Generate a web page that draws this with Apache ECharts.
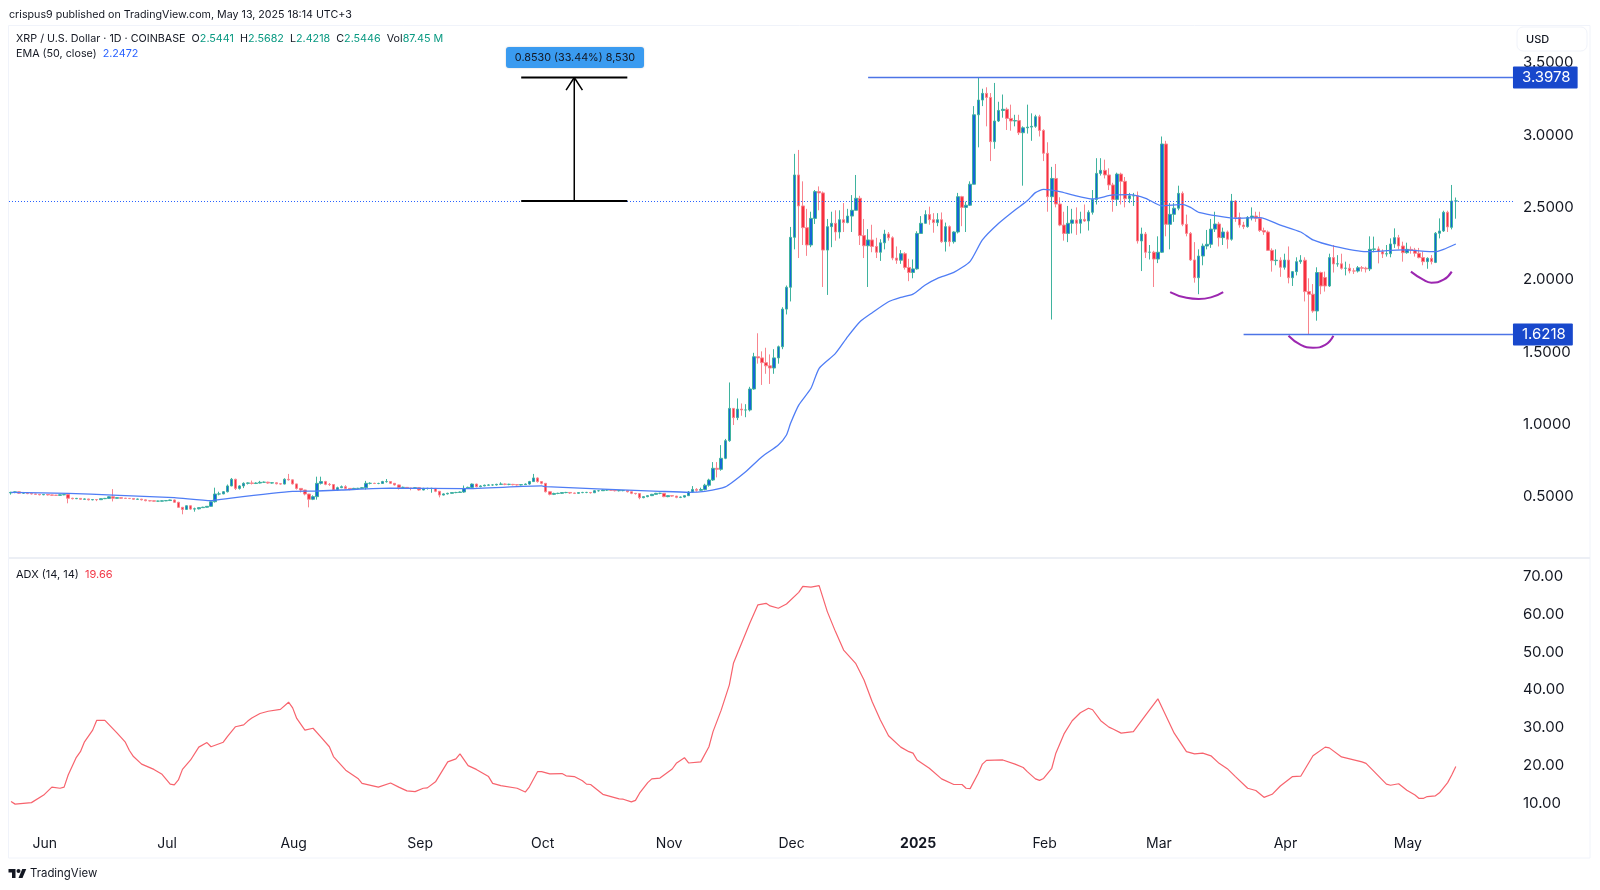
<!DOCTYPE html>
<html><head><meta charset="utf-8">
<style>html,body{margin:0;padding:0;background:#fff}#c{width:1600px;height:890px}</style>
<script src="https://cdn.jsdelivr.net/npm/echarts@6/dist/echarts.min.js"></script>
</head><body><div id="c"></div>
<script>
const startDate = Date.UTC(2024, 4, 24);
const dayCount = 369;
const tickDays = [8,38,69,100,130,161,191,222,253,281,312,342];
const tickLabels = ['Jun','Jul','Aug','Sep','Oct','Nov','Dec','2025','Feb','Mar','Apr','May'];
const priceTicks = [0.5,1,1.5,2,2.5,3,3.5];
const adxTicks = [10,20,30,40,50,60,70];

const opens = [
.527,.530,.534,.525,.525,.522,.520,.517,.514,.516,
.513,.511,.510,.514,.515,.490,.487,.489,.483,.485,
.479,.481,.480,.487,.489,.500,.490,.494,.490,.489,
.488,.483,.484,.479,.473,.472,.470,.470,.472,.474,
.478,.462,.427,.413,.438,.415,.417,.425,.428,.434,
.466,.519,.520,.535,.575,.621,.558,.575,.593,.596,
.592,.595,.600,.601,.595,.597,.590,.588,.621,.617,
.589,.558,.547,.519,.483,.501,.593,.605,.586,.585,
.547,.563,.570,.558,.552,.558,.558,.563,.593,.593,
.592,.592,.605,.605,.593,.582,.565,.565,.560,.558,
.563,.547,.558,.558,.558,.538,.512,.520,.524,.529,
.530,.533,.558,.565,.588,.570,.575,.580,.582,.582,
.586,.588,.586,.586,.584,.582,.584,.588,.605,.630,
.605,.593,.535,.517,.523,.524,.529,.530,.526,.524,
.529,.530,.530,.528,.542,.542,.547,.547,.545,.542,
.543,.543,.535,.524,.522,.494,.501,.508,.517,.524,
.524,.501,.508,.505,.496,.498,
.508,.533,.551,.545,.55,.58,.616,.697,.69,.766,
.888,1.111,1.047,1.106,1.10,1.10,1.245,1.468,1.46,1.427,
1.405,1.39,1.46,1.537,1.797,1.948,2.293,2.724,2.51,2.36,
2.24,2.424,2.609,2.60,2.205,2.367,2.39,2.33,2.415,2.395,
2.44,2.48,2.563,2.305,2.235,2.275,2.23,2.19,2.255,2.316,
2.29,2.15,2.135,2.18,2.085,2.05,2.075,2.32,2.39,2.45,
2.415,2.395,2.415,2.263,2.367,2.263,2.33,2.574,2.50,2.515,
2.66,3.14,3.242,3.288,3.26,2.954,3.097,3.17,3.178,3.115,
3.097,3.10,3.016,3.05,3.055,3.06,3.127,3.032,2.874,2.574,
2.70,2.523,2.378,2.32,2.39,2.413,2.39,2.417,2.406,2.466,
2.555,2.735,2.756,2.724,2.655,2.555,2.73,2.68,2.56,2.58,
2.58,2.268,2.316,2.19,2.19,2.143,2.19,2.938,2.383,2.452,
2.494,2.597,2.383,2.32,2.137,2.014,2.164,2.233,2.245,2.35,
2.385,2.291,2.33,2.28,2.544,2.43,2.378,2.367,2.431,2.44,
2.425,2.34,2.33,2.203,2.132,2.135,2.086,2.136,2.014,2.056,
2.125,2.135,1.918,1.90,1.784,2.05,2.016,1.957,2.153,2.109,
2.11,2.079,2.08,2.061,2.06,2.083,2.08,2.075,2.21,2.213,
2.194,2.178,2.18,2.247,2.291,2.233,2.187,2.21,2.205,2.183,
2.153,2.125,2.148,2.12,2.321,2.337,2.466,2.362,2.5441];

const closes = [
.530,.534,.525,.525,.522,.520,.517,.514,.516,.513,
.511,.510,.514,.515,.490,.487,.489,.483,.485,.479,
.481,.480,.487,.489,.500,.490,.494,.490,.489,.488,
.483,.484,.479,.473,.472,.470,.470,.472,.474,.478,
.462,.427,.413,.438,.415,.417,.425,.428,.434,.466,
.519,.520,.535,.575,.621,.558,.575,.593,.596,.592,
.595,.600,.601,.595,.597,.590,.588,.621,.617,.589,
.558,.547,.519,.483,.501,.593,.605,.586,.585,.547,
.563,.570,.558,.552,.558,.558,.563,.593,.593,.592,
.592,.605,.605,.593,.582,.565,.565,.560,.558,.563,
.547,.558,.558,.558,.538,.512,.520,.524,.529,.530,
.533,.558,.565,.588,.570,.575,.580,.582,.582,.586,
.588,.586,.586,.584,.582,.584,.588,.605,.630,.605,
.593,.535,.517,.523,.524,.529,.530,.526,.524,.529,
.530,.530,.528,.542,.542,.547,.547,.545,.542,.543,
.543,.535,.524,.522,.494,.501,.508,.517,.524,.524,
.501,.508,.505,.496,.498,.508,
.533,.551,.545,.55,.58,.616,.697,.69,.766,.888,
1.111,1.047,1.106,1.10,1.10,1.245,1.468,1.46,1.427,1.405,
1.39,1.46,1.537,1.797,1.948,2.293,2.724,2.51,2.36,2.24,
2.424,2.609,2.60,2.205,2.367,2.39,2.33,2.415,2.395,2.44,
2.48,2.563,2.305,2.235,2.275,2.23,2.19,2.255,2.316,2.29,
2.15,2.135,2.18,2.085,2.05,2.075,2.32,2.39,2.45,2.415,
2.395,2.415,2.263,2.367,2.263,2.33,2.574,2.50,2.515,2.66,
3.14,3.242,3.288,3.26,2.954,3.097,3.17,3.178,3.115,3.097,
3.10,3.016,3.05,3.055,3.06,3.127,3.032,2.874,2.574,2.70,
2.523,2.378,2.32,2.39,2.413,2.39,2.417,2.406,2.466,2.555,
2.735,2.756,2.724,2.655,2.555,2.73,2.68,2.56,2.58,2.58,
2.268,2.316,2.19,2.19,2.143,2.19,2.938,2.383,2.452,2.494,
2.597,2.383,2.32,2.137,2.014,2.164,2.233,2.245,2.35,2.385,
2.291,2.33,2.28,2.544,2.43,2.378,2.367,2.431,2.44,2.425,
2.34,2.33,2.203,2.132,2.135,2.086,2.136,2.014,2.056,2.125,
2.135,1.918,1.90,1.784,2.05,1.957,1.957,2.153,2.109,2.11,
2.079,2.08,2.061,2.06,2.083,2.08,2.075,2.21,2.213,2.194,
2.178,2.18,2.247,2.291,2.233,2.187,2.21,2.205,2.183,2.153,
2.125,2.148,2.125,2.321,2.337,2.466,2.365,2.544,2.5446];

const highs = [
.535,.537,.535,.528,.526,.523,.521,.518,.519,.517,
.514,.513,.517,.518,.517,.493,.492,.490,.488,.486,
.484,.483,.489,.492,.503,.553,.497,.496,.492,.491,
.489,.487,.485,.481,.475,.474,.473,.475,.477,.480,
.480,.465,.430,.440,.440,.425,.428,.431,.436,.468,
.563,.535,.540,.585,.630,.625,.580,.600,.600,.612,
.600,.610,.606,.604,.602,.600,.594,.628,.658,.620,
.590,.560,.548,.520,.510,.639,.639,.610,.595,.585,
.570,.578,.580,.560,.562,.562,.567,.610,.600,.597,
.597,.610,.623,.608,.594,.584,.570,.567,.562,.567,
.564,.562,.562,.562,.558,.538,.524,.528,.532,.534,
.537,.578,.570,.592,.590,.580,.584,.587,.586,.590,
.600,.592,.590,.589,.587,.588,.592,.610,.658,.634,
.606,.595,.537,.528,.528,.533,.534,.532,.528,.532,
.534,.534,.533,.546,.547,.551,.551,.549,.546,.547,
.547,.544,.535,.526,.523,.505,.511,.520,.527,.528,
.525,.511,.510,.506,.502,.510,
.54,.574,.56,.563,.59,.625,.74,.74,.857,.90,
1.29,1.11,1.18,1.145,1.14,1.26,1.495,1.63,1.505,1.53,
1.484,1.52,1.545,1.81,1.96,2.365,2.87,2.897,2.68,2.49,
2.47,2.62,2.645,2.61,2.42,2.47,2.48,2.48,2.53,2.49,
2.585,2.724,2.58,2.42,2.35,2.38,2.29,2.28,2.345,2.33,
2.30,2.23,2.205,2.19,2.145,2.14,2.335,2.44,2.48,2.505,
2.46,2.46,2.465,2.395,2.375,2.335,2.60,2.58,2.54,2.68,
3.20,3.3978,3.32,3.33,3.29,3.36,3.23,3.28,3.19,3.21,
3.14,3.14,3.06,3.21,3.15,3.14,3.14,3.04,2.95,2.78,
2.80,2.57,2.47,2.51,2.49,2.50,2.47,2.52,2.48,2.62,
2.84,2.84,2.83,2.77,2.67,2.74,2.74,2.71,2.60,2.60,
2.61,2.36,2.33,2.24,2.20,2.30,2.99,2.96,2.53,2.53,
2.65,2.61,2.45,2.33,2.26,2.21,2.25,2.344,2.42,2.47,
2.40,2.36,2.34,2.593,2.55,2.464,2.40,2.44,2.50,2.47,
2.47,2.36,2.34,2.217,2.21,2.155,2.18,2.23,2.06,2.155,
2.17,2.155,2.01,1.97,2.086,2.056,2.056,2.18,2.24,2.17,
2.18,2.125,2.11,2.08,2.095,2.095,2.09,2.30,2.298,2.23,
2.21,2.24,2.286,2.355,2.31,2.263,2.256,2.23,2.22,2.22,
2.195,2.155,2.17,2.33,2.424,2.477,2.477,2.655,2.5682];

const lows = [
.515,.525,.520,.521,.518,.516,.513,.510,.511,.509,
.507,.506,.508,.511,.455,.482,.484,.479,.480,.475,
.476,.470,.478,.484,.486,.468,.488,.486,.485,.484,
.479,.480,.475,.469,.468,.466,.466,.468,.470,.472,
.458,.425,.379,.410,.410,.397,.413,.423,.426,.432,
.460,.510,.518,.530,.573,.547,.550,.560,.585,.585,
.588,.592,.596,.590,.591,.586,.584,.586,.612,.585,
.550,.530,.510,.427,.477,.480,.585,.580,.575,.540,
.540,.560,.550,.545,.550,.552,.555,.550,.586,.588,
.587,.590,.598,.588,.578,.550,.558,.555,.545,.555,
.542,.545,.550,.528,.532,.496,.510,.516,.522,.525,
.528,.528,.555,.560,.565,.566,.573,.576,.576,.578,
.582,.580,.580,.579,.577,.578,.582,.583,.603,.598,
.586,.530,.510,.512,.518,.520,.525,.520,.519,.521,
.525,.525,.522,.526,.536,.540,.541,.540,.537,.537,
.538,.530,.518,.515,.483,.490,.497,.505,.514,.518,
.497,.497,.500,.490,.491,.495,
.505,.528,.535,.54,.545,.57,.61,.634,.68,.76,
.88,.996,1.03,1.06,1.05,1.09,1.24,1.42,1.273,1.35,
1.28,1.35,1.42,1.52,1.76,1.85,2.21,2.15,2.24,2.165,
2.225,2.385,2.48,1.95,1.895,2.225,2.27,2.285,2.33,2.39,
2.33,2.48,2.24,2.15,1.95,2.19,2.15,2.13,2.21,2.27,
2.135,2.11,2.11,2.07,1.99,2.01,2.07,2.32,2.39,2.38,
2.325,2.37,2.255,2.195,2.23,2.25,2.32,2.37,2.33,2.51,
2.66,2.915,3.20,3.06,2.82,2.905,3.09,3.12,3.035,3.03,
3.06,3.00,2.65,3.01,2.96,3.05,2.99,2.82,2.47,1.725,
2.50,2.37,2.27,2.26,2.32,2.31,2.32,2.40,2.34,2.45,
2.52,2.72,2.70,2.62,2.47,2.51,2.52,2.50,2.53,2.51,
2.25,2.06,2.15,2.14,1.95,2.115,2.185,2.30,2.21,2.40,
2.48,2.37,2.30,2.13,1.98,1.90,2.10,2.21,2.22,2.33,
2.23,2.24,2.215,2.27,2.40,2.36,2.35,2.36,2.41,2.40,
2.33,2.31,2.20,2.056,2.10,2.02,2.07,1.975,1.957,2.03,
2.11,1.85,1.6218,1.772,1.717,1.90,1.918,1.95,2.05,2.09,
2.07,2.03,2.044,2.04,2.05,2.056,2.05,2.06,2.19,2.113,
2.15,2.16,2.155,2.22,2.21,2.125,2.18,2.18,2.16,2.148,
2.10,2.076,2.106,2.115,2.286,2.33,2.33,2.348,2.4218];

const emaDays = [0,14,25,40,49,50,69,75,81,93,111,130,131,159,166,170,175,180,184,188,190,191,193,196,198,202,205,208,211,215,218,221,224,227,231,235,238,242,246,249,251,253,257,260,265,270,274,278,282,287,289,291,300,306,311,316,319,324,332,341,349,351,354];
const emaVals = [.53,.524,.512,.494,.473,.478,.538,.540,.547,.56,.556,.575,.57,.538,.531,.538,.568,.673,.777,.858,.927,1.008,1.134,1.25,1.388,1.491,1.607,1.71,1.772,1.848,1.878,1.901,1.964,2.01,2.051,2.127,2.275,2.39,2.482,2.546,2.602,2.625,2.609,2.586,2.558,2.586,2.588,2.563,2.51,2.521,2.50,2.466,2.425,2.429,2.378,2.33,2.275,2.233,2.194,2.206,2.194,2.21,2.2472];

const adxDays = [0,1,5,8,10,12,13,14,16,17,18,20,21,23,26,28,29,30,32,35,37,39,40,41,42,44,46,48,49,52,53,55,57,58,59,61,63,66,68,69,70,72,74,76,78,79,82,85,86,90,93,95,97,99,101,102,104,107,109,110,112,114,117,118,
120,124,126,127,129,130,132,135,136,138,140,141,142,145,149,150,152,153,154,156,157,159,162,163,165,166,169,171,172,174,176,177,179,181,183,185,186,188,190,193,194,196,198,200,202,204,206,207,209,211,213,215,218,220,221,222,225,228,231,233,234,235,237,238,239,
243,246,248,249,251,252,253,255,256,258,260,262,264,265,267,269,270,272,275,278,281,285,288,290,292,294,296,298,300,303,305,307,309,311,314,316,319,322,323,326,328,331,332,334,337,338,340,342,344,345,346,347,349,350,352,353,354];
const adxVals = [10.4,9.7,10.1,12.1,14.2,13.9,14.2,17.4,22.1,23.6,26.2,29.3,31.9,31.9,28.5,26.1,23.9,22.3,20.3,18.9,17.6,15.0,14.8,16.1,18.9,21.4,24.8,26.0,24.9,26.1,27.6,30.2,30.7,31.7,32.5,33.7,34.3,34.8,36.7,35.2,32.4,29.3,29.8,27.4,24.9,22.3,18.7,16.5,15.2,14.2,15.3,14.2,13.2,13.0,13.9,14.0,15.6,20.9,21.7,23.0,19.9,18.9,17.0,15.2,
14.6,13.9,12.9,14.3,18.3,18.3,17.7,17.8,17.2,17.0,15.9,15.0,14.9,12.3,11.1,11.0,10.3,10.7,12.6,15.4,16.4,16.6,19.0,20.5,22.0,20.6,20.9,24.9,28.9,34.6,41.3,47.0,52.3,57.6,62.5,62.9,62.2,61.6,62.7,65.8,67.4,67.2,67.6,60.7,55.4,50.5,48.1,46.9,42.6,36.8,32.0,27.8,24.8,23.6,23.2,21.4,19.2,16.4,14.9,14.9,13.9,13.8,17.9,20.3,21.3,
21.4,20.3,19.4,18.3,16.4,16.0,16.5,19.2,23.2,28.3,31.8,33.9,35.1,34.7,31.8,30.1,29.6,28.5,28.9,33.3,37.6,28.5,23.6,23.0,23.2,22.5,20.5,19.1,17.0,13.9,13.3,11.5,12.3,14.5,17.0,17.1,22.5,24.8,24.6,22.2,21.7,20.9,20.5,18.3,15.0,14.7,15.1,13.4,12.1,11.2,11.2,11.7,11.9,12.7,15.4,17.4,19.66];

const topLevel = 3.3978, bottomLevel = 1.6218, lastClose = 2.5446;
const resistanceDays = [210,368];
const supportDays = [302,368];
const rangeDays = [125,151];
const arrowDay = 138;
const arrowHeadDays = [136,138,140];
const arrowHeadVals = [3.31,3.3978,3.31];
const arcs = [
  {days:[284,288,291,294,297], vals:[1.915,1.875,1.867,1.878,1.915]},
  {days:[313,316,319,322,324], vals:[1.613,1.55,1.53,1.55,1.613]},
  {days:[343,346,348,351,353], vals:[2.056,2.0,1.98,2.0,2.056]}
];

const FONT = 'Inter, "Liberation Sans", sans-serif';
const INK = '#131722', UP = '#089981';
const categories = Array.from({length: dayCount}, (_, i) => new Date(startDate + i * 864e5).toISOString().slice(0,10));
const candleData = opens.map((o, i) => [o, closes[i], lows[i], highs[i]]);
const pairs = (xs, ys) => xs.map((x, i) => [x, ys[i]]);

const plainLine = (data, color, width, extra) => Object.assign({
  type:'line', data, symbol:'none', silent:true, animation:false,
  lineStyle:{color, width}, xAxisIndex:0, yAxisIndex:0, z:5
}, extra || {});
const levelLabel = {show:true, distance:0, formatter:p => p.value[1].toFixed(4), color:'#fff',
  backgroundColor:'#1848cc', padding:[4,7,3,9], fontFamily:FONT, fontSize:15, borderRadius:1};
const lx = v => 8.5 + v / 2, ly = v => 867 + v / 2;
const logoPts = pts => pts.map(p => [lx(p[0]), ly(p[1])]);

const chart = echarts.init(document.getElementById('c'), null, {renderer:'canvas'});
chart.setOption({
  animation:false, backgroundColor:'#fff',
  grid:[
    {left:9, right:85, top:25.5, height:532.5},
    {left:9, right:85, top:558, height:267}
  ],
  xAxis:[
    {type:'category', gridIndex:0, data:categories, boundaryGap:true, show:false},
    {type:'category', gridIndex:1, data:categories, boundaryGap:true,
     axisLine:{show:false}, axisTick:{show:false}, splitLine:{show:false},
     axisLabel:{interval:i => tickDays.includes(i), margin:11.5, padding:[0,0,0,2], fontFamily:FONT, fontSize:14, color:INK,
       formatter:(v, i) => { const k = tickDays.indexOf(i); const t = tickLabels[k]; return t === '2025' ? '{b|2025}' : t; },
       rich:{b:{fontWeight:'bold', fontFamily:FONT, fontSize:14, color:INK}}}}
  ],
  yAxis:[
    {type:'value', gridIndex:0, position:'right', min:0.077, max:3.757, scale:true,
     axisLine:{show:false}, axisTick:{show:false}, splitLine:{show:false},
     axisLabel:{customValues:priceTicks, margin:8, padding:[3,0,0,0], fontFamily:FONT, fontSize:15, color:INK, formatter:v => v.toFixed(4)}},
    {type:'value', gridIndex:1, position:'right', min:4.17, max:74.9, scale:true,
     axisLine:{show:false}, axisTick:{show:false}, splitLine:{show:false},
     axisLabel:{customValues:adxTicks, margin:8, padding:[3,0,0,0], fontFamily:FONT, fontSize:15, color:INK, formatter:v => v.toFixed(2)}}
  ],
  series:[
    {type:'candlestick', xAxisIndex:0, yAxisIndex:0, data:candleData, barWidth:3, silent:true,
     itemStyle:{color:'#1565d8', color0:'#f7303f', borderColor:'#3fb39e', borderColor0:'#f8848e', borderWidth:1},
     markLine:{silent:true, symbol:'none', animation:false, label:{show:false},
       lineStyle:{color:'#2962ff', width:1, type:[1,2]}, data:[{yAxis:lastClose}]}, z:4},
    plainLine(pairs(emaDays, emaVals), '#4f7df5', 1.3, {smooth:0.2}),
    plainLine(pairs(resistanceDays, [topLevel, topLevel]), '#4c74e6', 1.5, {endLabel:levelLabel, z:8}),
    plainLine(pairs(supportDays, [bottomLevel, bottomLevel]), '#4c74e6', 1.5, {endLabel:levelLabel, z:8}),
    plainLine(pairs(rangeDays, [topLevel, topLevel]), '#000', 2),
    plainLine(pairs(rangeDays, [lastClose, lastClose]), '#000', 2),
    plainLine(pairs([arrowDay, arrowDay], [lastClose, topLevel]), '#000', 1.5),
    plainLine(pairs(arrowHeadDays, arrowHeadVals), '#000', 1.5),
    ...arcs.map(a => plainLine(pairs(a.days, a.vals), '#9c27b0', 2, {smooth:true})),
    {type:'line', xAxisIndex:1, yAxisIndex:1, data:pairs(adxDays, adxVals), symbol:'none', silent:true,
     lineStyle:{color:'#f7636d', width:1.2}}
  ],
  graphic:[
    {type:'rect', silent:true, z:-1, shape:{x:8.5, y:25.5, width:1581.5, height:832.5}, style:{fill:'none', stroke:'#f0f3fa', lineWidth:1}},
    {type:'line', silent:true, z:-1, shape:{x1:9, y1:558, x2:1590, y2:558}, style:{stroke:'#eceff5', lineWidth:2}},
    {type:'text', x:9, y:9, style:{text:'crispus9 published on TradingView.com, May 13, 2025 18:14 UTC+3', font:'10.7px '+FONT, fill:INK}},
    {type:'text', x:16, y:33, style:{
      text:'XRP / U.S. Dollar · 1D · COINBASE  O{u|2.5441}  H{u|2.5682}  L{u|2.4218}  C{u|2.5446}  Vol{u|87.45 M}',
      font:'10.75px '+FONT, fill:INK, rich:{u:{fill:UP, font:'10.75px '+FONT}}}},
    {type:'text', x:16, y:48, style:{text:'EMA (50, close)  {v|2.2472}', font:'10.75px '+FONT, fill:INK, rich:{v:{fill:'#2962ff', font:'10.75px '+FONT}}}},
    {type:'text', x:16, y:569, style:{text:'ADX (14, 14)  {v|19.66}', font:'11px '+FONT, fill:INK, rich:{v:{fill:'#f23645', font:'11px '+FONT}}}},
    {type:'rect', silent:true, z:20, shape:{x:506, y:47, width:138, height:21, r:3}, style:{fill:'#3a9bf0', shadowBlur:2, shadowColor:'rgba(0,0,0,.2)'}},
    {type:'text', z:21, x:575, y:57.5, style:{text:'0.8530 (33.44%) 8,530', font:'10.8px '+FONT, fill:INK, textAlign:'center', textVerticalAlign:'middle'}},
    {type:'rect', silent:true, z:20, shape:{x:1517, y:27, width:70, height:24, r:6}, style:{fill:'#fff', stroke:'#f0f3fa', lineWidth:1}},
    {type:'text', z:21, x:1526, y:40, style:{text:'USD', font:'500 11px '+FONT, fill:INK, textVerticalAlign:'middle'}},
    {type:'polygon', silent:true, shape:{points:logoPts([[0,4],[14,4],[14,22],[7,22],[7,11],[0,11]])}, style:{fill:INK}},
    {type:'polygon', silent:true, shape:{points:logoPts([[20,22],[27.5,4],[35.5,4],[28,22]])}, style:{fill:INK}},
    {type:'circle', silent:true, shape:{cx:lx(20), cy:ly(8), r:2}, style:{fill:INK}},
    {type:'text', x:30, y:874, style:{text:'TradingView', font:'11.4px '+FONT, fill:INK, textVerticalAlign:'middle'}}
  ]
});
</script></body></html>
